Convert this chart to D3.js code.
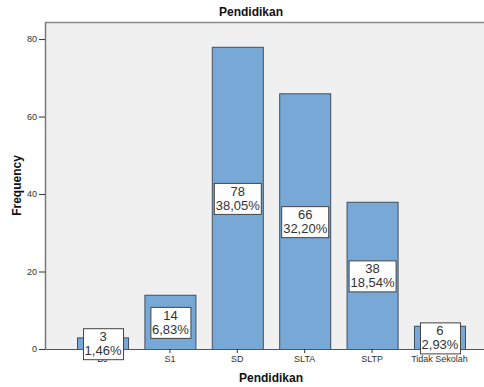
<!DOCTYPE html>
<html>
<head>
<meta charset="utf-8">
<script src="https://cdn.jsdelivr.net/npm/d3@7"></script>
<style>
  body { margin: 0; background: #fff; }
  svg { display: block; font-family: "Liberation Sans", Arial, sans-serif; }
</style>
</head>
<body>
<svg id="chart" width="484" height="387"></svg>
<script>
// Education level frequencies
const categories = ["BJ", "S1", "SD", "SLTA", "SLTP", "Tidak Sekolah"];
const counts = [3, 14, 78, 66, 38, 6];
const yTicks = [0, 20, 40, 60, 80];

const total = d3.sum(counts);
const pctFmt = v => (v * 100).toFixed(2).replace(".", ",") + "%";

const svg = d3.select("#chart");
const plot = { left: 45, right: 497, top: 22, bottom: 349 };

const x = d3.scaleBand()
  .domain(categories)
  .range([plot.left, plot.right])
  .paddingInner(0.243)
  .paddingOuter(0.475);

const y = d3.scaleLinear()
  .domain([0, 84.4])
  .range([plot.bottom, plot.top]);

// plot background
svg.append("rect")
  .attr("x", plot.left).attr("y", plot.top)
  .attr("width", plot.right - plot.left).attr("height", plot.bottom - plot.top)
  .attr("fill", "#f0f0f0");

// top frame line
svg.append("line")
  .attr("x1", plot.left).attr("x2", plot.right)
  .attr("y1", plot.top + 0.5).attr("y2", plot.top + 0.5)
  .attr("stroke", "#8c8c8c").attr("stroke-width", 1.5);

// bars
const data = categories.map((c, i) => ({ cat: c, value: counts[i] }));
svg.append("g").selectAll("rect").data(data).join("rect")
  .attr("x", d => x(d.cat) + 0.5)
  .attr("y", d => y(d.value) + 0.5)
  .attr("width", x.bandwidth())
  .attr("height", d => y(0) - y(d.value))
  .attr("fill", "#78a8d6")
  .attr("stroke", "#3e5061")
  .attr("stroke-width", 1);

// y axis
const yAxis = svg.append("g")
  .attr("transform", `translate(${plot.left},0)`)
  .call(d3.axisLeft(y).tickValues(yTicks).tickSize(6).tickPadding(2).tickSizeOuter(0));
yAxis.select(".domain").attr("stroke", "#7a7a7a").attr("stroke-width", 1.5);
yAxis.selectAll(".tick line").attr("stroke", "#333");
yAxis.selectAll(".tick text").attr("fill", "#333").attr("font-size", 9)
  .attr("font-family", "Liberation Sans, Arial, sans-serif");

// x axis
const xAxis = svg.append("g")
  .attr("transform", `translate(0,${plot.bottom})`)
  .call(d3.axisBottom(x).tickSize(4).tickPadding(3).tickSizeOuter(0));
xAxis.select(".domain").attr("stroke", "#555").attr("stroke-width", 1);
xAxis.selectAll(".tick line").attr("stroke", "#333");
xAxis.selectAll(".tick text").attr("fill", "#333").attr("font-size", 9)
  .attr("font-family", "Liberation Sans, Arial, sans-serif");

// titles
svg.append("text")
  .attr("x", 251).attr("y", 16)
  .attr("text-anchor", "middle")
  .attr("font-size", 12).attr("font-weight", "bold").attr("fill", "#111")
  .text("Pendidikan");

svg.append("text")
  .attr("x", (plot.left + plot.right) / 2).attr("y", 382)
  .attr("text-anchor", "middle")
  .attr("font-size", 12).attr("font-weight", "bold").attr("fill", "#111")
  .text("Pendidikan");

svg.append("text")
  .attr("transform", `translate(21,${(plot.top + plot.bottom) / 2}) rotate(-90)`)
  .attr("text-anchor", "middle")
  .attr("font-size", 12).attr("font-weight", "bold").attr("fill", "#111")
  .text("Frequency");

// value labels: count and percentage in a boxed callout at bar mid-height
const labels = svg.append("g").selectAll("g").data(data).join("g")
  .attr("transform", d => `translate(${x(d.cat) + x.bandwidth() / 2 + 0.5},${(y(d.value) + y(0)) / 2 + 1})`);

labels.each(function (d) {
  const g = d3.select(this);
  const box = g.append("rect")
    .attr("fill", "#fff")
    .attr("stroke", "#444")
    .attr("stroke-width", 1);
  const t1 = g.append("text")
    .attr("text-anchor", "middle").attr("y", -3)
    .attr("font-size", 13).attr("fill", "#333")
    .text(d.value);
  const t2 = g.append("text")
    .attr("text-anchor", "middle").attr("y", 11)
    .attr("font-size", 13).attr("fill", "#333")
    .text(pctFmt(d.value / total));
  const w = Math.max(t1.node().getComputedTextLength(), t2.node().getComputedTextLength()) + 3;
  box.attr("x", Math.round(-w / 2) + 0.5).attr("y", -15.5)
    .attr("width", Math.round(w)).attr("height", 31);
});
</script>
</body>
</html>
